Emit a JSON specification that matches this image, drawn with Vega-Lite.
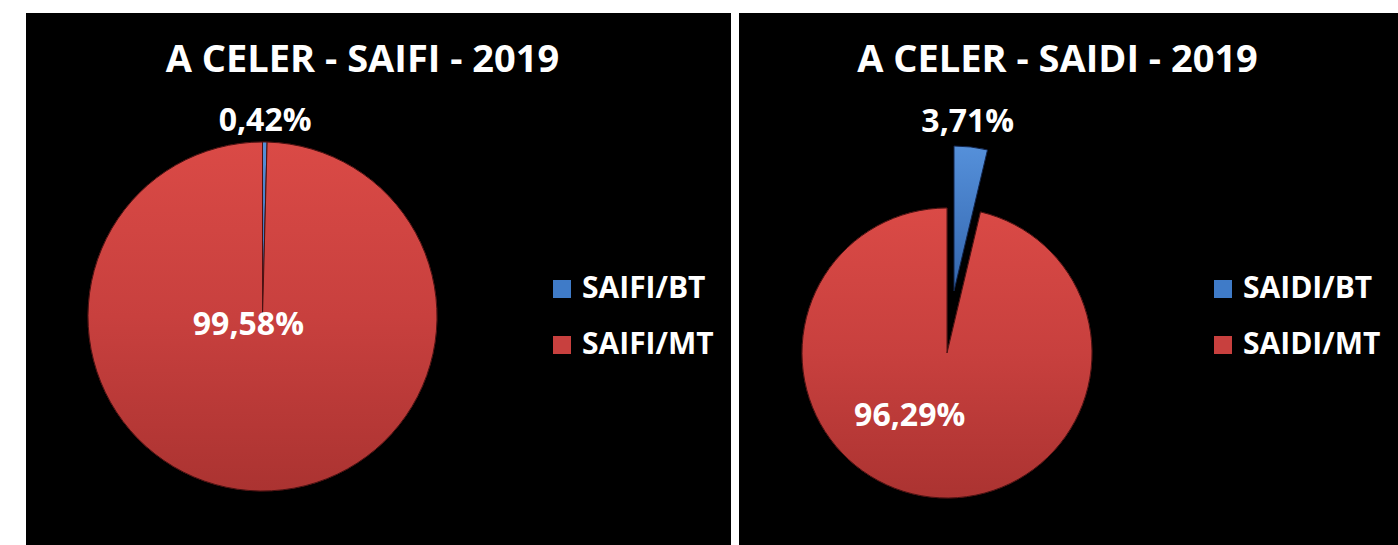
{
  "$schema": "https://vega.github.io/schema/vega-lite/v6.json",
  "background": "white",
  "padding": {"left": 26, "top": 13, "right": 0, "bottom": 0},
  "spacing": 8,
  "config": {"view": {"fill": "black", "stroke": null}, "font": "Open Sans"},
  "resolve": {"scale": {"color": "independent", "theta": "independent"}, "legend": {"color": "independent"}},
  "hconcat": [
    {
      "width": 705,
      "height": 532,
      "title": {"text": "A CELER - SAIFI - 2019", "color": "white", "font": "Open Sans", "fontSize": 38, "fontWeight": "bold", "anchor": "middle", "frame": "group", "offset": -97, "baseline": "alphabetic", "dx": -16},
      "data": {"values": [
        {"cat": "SAIFI/BT", "value": 0.42, "label": "0,42%"},
        {"cat": "SAIFI/MT", "value": 99.58, "label": "99,58%"}
      ]},
      "encoding": {"theta": {"field": "value", "type": "quantitative", "stack": true}},
      "layer": [
        {
          "mark": {"type": "arc", "radius": 174.5, "stroke": "#4a1212", "strokeWidth": 1},
          "encoding": {
            "x": {"value": 236.5},
            "y": {"value": 303.5},
            "color": {
              "field": "cat", "type": "nominal",
              "scale": {"domain": ["SAIFI/BT", "SAIFI/MT"], "range": ["#3f7bc8", "#c8403e"]},
              "legend": {"orient": "none", "direction": "vertical", "legendX": 521, "legendY": 261, "title": null, "padding": 0, "symbolType": "square", "symbolSize": 324, "symbolStrokeWidth": 0, "symbolOpacity": 1, "labelFont": "Open Sans", "labelFontWeight": "bold", "labelFontSize": 30, "labelColor": "white", "labelOffset": 5, "rowPadding": 26, "labelLimit": 300}
            }
          }
        },
        {
          "mark": {"type": "arc", "radius": 174.5, "stroke": "#4a1212", "strokeWidth": 1},
          "encoding": {
            "x": {"value": 236.5},
            "y": {"value": 303.5},
            "detail": {"field": "cat", "type": "nominal"},
            "fill": {
              "condition": {"test": "datum.cat === 'SAIFI/BT'", "value": {"gradient": "linear", "x1": 0, "y1": 0, "x2": 0, "y2": 1, "stops": [{"offset": 0, "color": "#5590da"}, {"offset": 1, "color": "#3366ae"}]}},
              "value": {"gradient": "linear", "x1": 0, "y1": 0, "x2": 0, "y2": 1, "stops": [{"offset": 0, "color": "#da4a46"}, {"offset": 0.5, "color": "#c8403e"}, {"offset": 1, "color": "#ab3331"}]}
            }
          }
        },
        {
          "mark": {"type": "text", "radius": 196, "font": "Open Sans", "fontWeight": "bold", "fontSize": 32, "baseline": "middle", "align": "center"},
          "encoding": {
            "x": {"value": 236.5},
            "y": {"value": 303.5},
            "detail": {"field": "cat", "type": "nominal"},
            "color": {"value": "white"},
            "text": {"condition": {"test": "datum.cat === 'SAIFI/BT'", "field": "label"}, "value": ""}
          }
        },
        {
          "mark": {"type": "text", "radius": 9, "dx": -14, "dy": 0, "font": "Open Sans", "fontWeight": "bold", "fontSize": 32, "baseline": "middle", "align": "center"},
          "encoding": {
            "x": {"value": 236.5},
            "y": {"value": 303.5},
            "detail": {"field": "cat", "type": "nominal"},
            "color": {"value": "white"},
            "text": {"condition": {"test": "datum.cat === 'SAIFI/MT'", "field": "label"}, "value": ""}
          }
        }
      ]
    },
    {
      "width": 659,
      "height": 532,
      "title": {"text": "A CELER - SAIDI - 2019", "color": "white", "font": "Open Sans", "fontSize": 38, "fontWeight": "bold", "anchor": "middle", "frame": "group", "offset": -97, "baseline": "alphabetic", "dx": -11},
      "data": {"values": [
        {"cat": "SAIDI/BT", "value": 3.71, "label": "3,71%"},
        {"cat": "SAIDI/MT", "value": 96.29, "label": "96,29%"}
      ]},
      "encoding": {"theta": {"field": "value", "type": "quantitative", "stack": true}},
      "layer": [
        {
          "mark": {"type": "arc", "radius": 145, "stroke": "#4a1212", "strokeWidth": 1},
          "encoding": {
            "x": {"value": 208},
            "y": {"value": 340},
            "opacity": {"condition": {"test": "datum.cat === 'SAIDI/BT'", "value": 0}, "value": 1},
            "color": {
              "field": "cat", "type": "nominal",
              "scale": {"domain": ["SAIDI/BT", "SAIDI/MT"], "range": ["#3f7bc8", "#c8403e"]},
              "legend": {"orient": "none", "direction": "vertical", "legendX": 469, "legendY": 261, "title": null, "padding": 0, "symbolType": "square", "symbolSize": 324, "symbolStrokeWidth": 0, "symbolOpacity": 1, "labelFont": "Open Sans", "labelFontWeight": "bold", "labelFontSize": 30, "labelColor": "white", "labelOffset": 5, "rowPadding": 26, "labelLimit": 300}
            }
          }
        },
        {
          "mark": {"type": "arc", "radius": 145, "stroke": "#4a1212", "strokeWidth": 1},
          "encoding": {
            "x": {"value": 208},
            "y": {"value": 340},
            "detail": {"field": "cat", "type": "nominal"},
            "opacity": {"condition": {"test": "datum.cat === 'SAIDI/BT'", "value": 0}, "value": 1},
            "fill": {"value": {"gradient": "linear", "x1": 0, "y1": 0, "x2": 0, "y2": 1, "stops": [{"offset": 0, "color": "#da4a46"}, {"offset": 0.5, "color": "#c8403e"}, {"offset": 1, "color": "#ab3331"}]}}
          }
        },
        {
          "mark": {"type": "arc", "radius": 145, "stroke": "#12244a", "strokeWidth": 1},
          "encoding": {
            "x": {"value": 215},
            "y": {"value": 278},
            "detail": {"field": "cat", "type": "nominal"},
            "opacity": {"condition": {"test": "datum.cat === 'SAIDI/MT'", "value": 0}, "value": 1},
            "fill": {"value": {"gradient": "linear", "x1": 0, "y1": 0, "x2": 0, "y2": 1, "stops": [{"offset": 0, "color": "#5590da"}, {"offset": 1, "color": "#3366ae"}]}}
          }
        },
        {
          "mark": {"type": "text", "radius": 170, "dx": -6, "font": "Open Sans", "fontWeight": "bold", "fontSize": 32, "baseline": "middle", "align": "center"},
          "encoding": {
            "x": {"value": 215},
            "y": {"value": 278},
            "detail": {"field": "cat", "type": "nominal"},
            "color": {"value": "white"},
            "text": {"condition": {"test": "datum.cat === 'SAIDI/BT'", "field": "label"}, "value": ""}
          }
        },
        {
          "mark": {"type": "text", "radius": 63, "dx": -30, "dy": 0, "font": "Open Sans", "fontWeight": "bold", "fontSize": 32, "baseline": "middle", "align": "center"},
          "encoding": {
            "x": {"value": 208},
            "y": {"value": 340},
            "detail": {"field": "cat", "type": "nominal"},
            "color": {"value": "white"},
            "text": {"condition": {"test": "datum.cat === 'SAIDI/MT'", "field": "label"}, "value": ""}
          }
        }
      ]
    }
  ]
}
